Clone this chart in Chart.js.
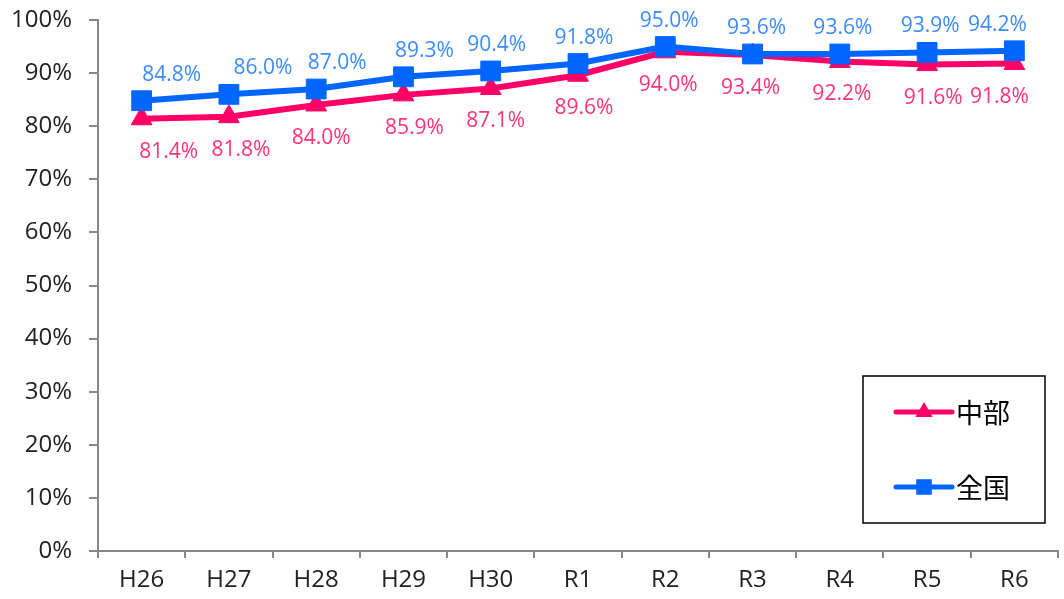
<!DOCTYPE html>
<html>
<head>
<meta charset="utf-8">
<script src="https://cdn.jsdelivr.net/npm/chart.js@4.4.1/dist/chart.umd.min.js"></script>
<style>
  html,body{margin:0;padding:0;background:#fff;}
  #wrap{width:1064px;height:599px;position:relative;}
</style>
</head>
<body>
<div id="wrap"><canvas id="c" width="1064" height="599"></canvas></div>
<script>
// categories & values
const years = ['H26','H27','H28','H29','H30','R1','R2','R3','R4','R5','R6'];
const chubu = [81.4, 81.8, 84.0, 85.9, 87.1, 89.6, 94.0, 93.4, 92.2, 91.6, 91.8];
const zenkoku = [84.8, 86.0, 87.0, 89.3, 90.4, 91.8, 95.0, 93.6, 93.6, 93.9, 94.2];
const yTicks = [0,10,20,30,40,50,60,70,80,90,100];

// label nudges (px, relative to each point) - Excel labels were hand-placed
const zenkokuNudge = [30, 34, 21, 21, 6, 6, 4, 4, 3, 3, -17];
const chubuNudge = [27, 12, 5, 11, 5, 6, 3, -2, 2, 6, -15];

const PINK = '#ff0066', PINK_TXT = '#ff3377';
const BLUE = '#0066ff', BLUE_TXT = '#3a8cff';
const AXIS = '#888888';
const FONT = '"Open Sans", "Noto Sans", sans-serif';

/* ===== value labels ===== */
const valueLabels = {
  id:'valueLabels',
  afterDatasetsDraw(chart){
    const ctx = chart.ctx;
    ctx.save();
    ctx.font = '21px ' + FONT;
    ctx.textAlign = 'center';
    ctx.textBaseline = 'middle';
    chart.data.datasets.forEach((ds,i)=>{
      const meta = chart.getDatasetMeta(i);
      const below = ds.label === '中部';
      const nudge = below ? chubuNudge : zenkokuNudge;
      ctx.fillStyle = below ? PINK_TXT : BLUE_TXT;
      meta.data.forEach((pt,j)=>{
        const y = below ? pt.y + 33 : pt.y - 26;
        ctx.fillText(ds.data[j].toFixed(1) + '%', pt.x + nudge[j], y);
      });
    });
    ctx.restore();
  }
};

/* ===== boxed legend (bottom right) ===== */
const boxLegend = {
  id:'boxLegend',
  afterDraw(chart){
    const ctx = chart.ctx;
    ctx.save();
    ctx.fillStyle = '#fff';
    ctx.fillRect(863,376,182,147);
    ctx.strokeStyle = '#000';
    ctx.lineWidth = 1.5;
    ctx.strokeRect(863,376,182,147);
    const rows = [
      {y:412, color:PINK, style:'triangle', r:10, text:'中部'},
      {y:487, color:BLUE, style:'rect', r:11, text:'全国'}
    ];
    rows.forEach(r=>{
      ctx.strokeStyle = r.color;
      ctx.lineWidth = 5;
      ctx.lineCap = 'round';
      ctx.beginPath(); ctx.moveTo(896,r.y); ctx.lineTo(952,r.y); ctx.stroke();
      ctx.fillStyle = r.color;
      Chart.helpers.drawPoint(ctx,{pointStyle:r.style, radius:r.r, borderWidth:0, rotation:0},924,r.y);
      ctx.fillStyle = '#000';
      ctx.font = '27px "Noto Sans CJK JP", sans-serif';
      ctx.textAlign = 'left';
      ctx.textBaseline = 'middle';
      ctx.fillText(r.text, 956, r.y + 1);
    });
    ctx.restore();
  }
};

new Chart(document.getElementById('c'),{
  type:'line',
  data:{
    labels:years,
    datasets:[
      {label:'全国', data:zenkoku, borderColor:BLUE, backgroundColor:BLUE, borderWidth:6,
       pointStyle:'rect', pointRadius:14, pointBorderWidth:1, pointBorderColor:BLUE, order:0, tension:0},
      {label:'中部', data:chubu, borderColor:PINK, backgroundColor:PINK, borderWidth:6,
       pointStyle:'triangle', pointRadius:12, pointBorderWidth:1, pointBorderColor:PINK, order:1, tension:0}
    ]
  },
  options:{
    responsive:false,
    animation:false,
    layout:{autoPadding:false, padding:{top:20,right:6,left:0,bottom:0}},
    plugins:{legend:{display:false}, tooltip:{enabled:false}},
    scales:{
      x:{
        offset:true,
        grid:{offset:true, drawOnChartArea:false, drawTicks:true, tickLength:7, color:AXIS, lineWidth:2},
        border:{color:AXIS, width:2},
        ticks:{color:'#222', font:{family:FONT, size:24}, padding:8, maxRotation:0},
        afterFit(s){ s.height = 48; s.paddingLeft = 0; s.paddingRight = 0; }
      },
      y:{
        min:0, max:100,
        afterBuildTicks(s){ s.ticks = yTicks.map(v=>({value:v})); },
        grid:{drawOnChartArea:false, drawTicks:true, tickLength:9, color:AXIS, lineWidth:2},
        border:{color:AXIS, width:2},
        ticks:{color:'#222', font:{family:FONT, size:24}, padding:17, callback:v=> v + '%'},
        afterFit(s){ s.width = 98; s.paddingTop = 0; s.paddingBottom = 0; }
      }
    }
  },
  plugins:[valueLabels, boxLegend]
});
</script>
</body>
</html>
